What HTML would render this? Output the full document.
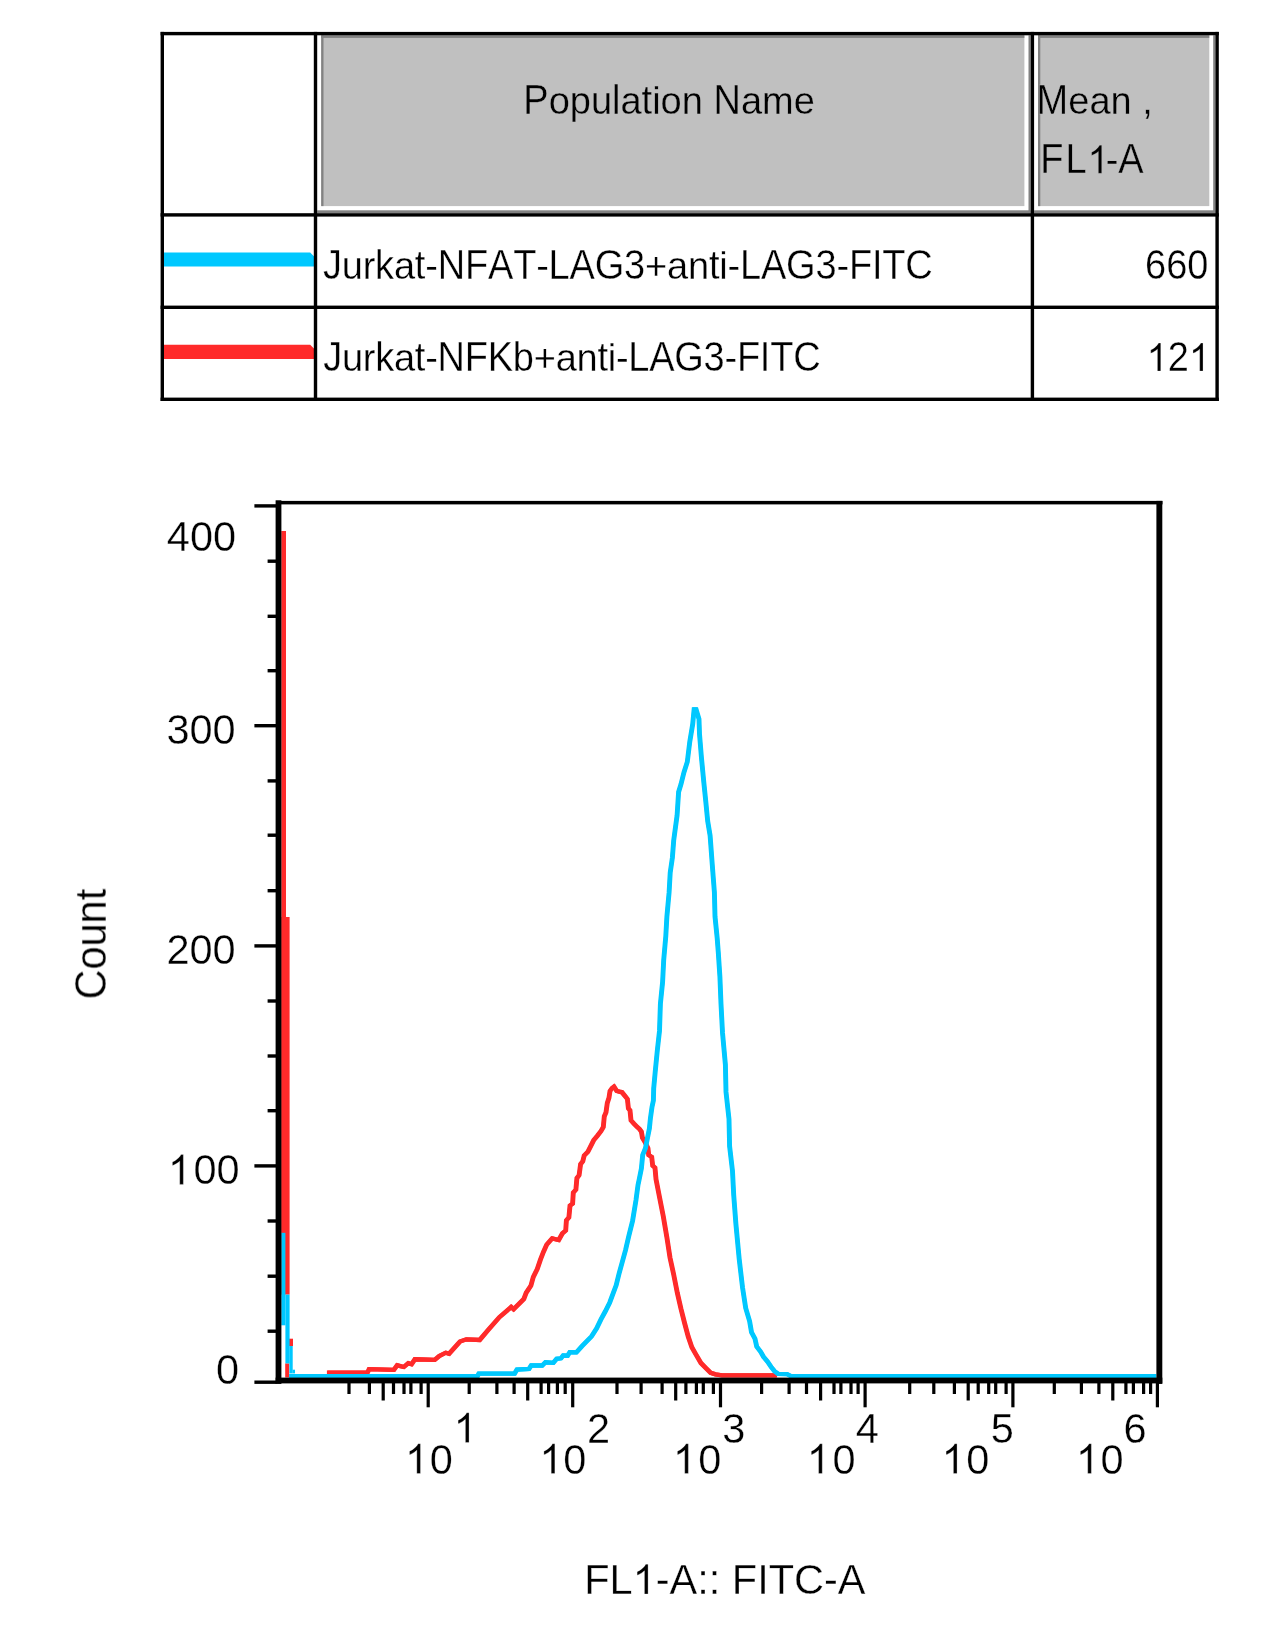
<!DOCTYPE html><html><head><meta charset="utf-8"><title>FlowJo histogram overlay</title><style>html,body{margin:0;padding:0;background:#fff;overflow:hidden;width:1269px;height:1649px;}svg{display:block} text{font-family:"Liberation Sans", sans-serif;font-kerning:none;fill:#000} .t{filter:grayscale(1)}</style></head><body>
<svg width="1269" height="1649" viewBox="0 0 1269 1649">
<defs><path id="one" d="M763,0 L583,0 L583,1147 Q518,1085 465,1054 Q412,1023 359,992 Q306,961 222,930 L222,1104 Q373,1175 429.5,1225.5 Q486,1276 542.5,1326.5 Q599,1377 646,1472 L763,1472 Z"/></defs>
<rect x="0" y="0" width="1269" height="1649" fill="#fff"/>
<rect x="1028.5" y="35.3" width="2.2" height="177.9" fill="#828282"/>
<rect x="317.2" y="210.3" width="713.5" height="2.9" fill="#828282"/>
<rect x="321.2" y="35.3" width="703.2" height="170.8" fill="#c0c0c0"/>
<rect x="321.2" y="35.3" width="2.3" height="170.8" fill="#828282"/>
<rect x="321.2" y="35.3" width="703.2" height="2.6" fill="#828282"/>
<rect x="1213.2" y="35.3" width="2.2" height="177.9" fill="#828282"/>
<rect x="1034.1" y="210.3" width="181.3" height="2.9" fill="#828282"/>
<rect x="1038" y="35.3" width="171.3" height="170.8" fill="#c0c0c0"/>
<rect x="1038" y="35.3" width="2.3" height="170.8" fill="#828282"/>
<rect x="1038" y="35.3" width="171.3" height="2.6" fill="#828282"/>
<polygon points="163,252.6 310.2,252.6 314.2,256.6 314.2,266.4 163,266.4" fill="#00c8ff"/>
<polygon points="163,344.7 310.2,344.7 314.2,348.7 314.2,358.9 163,358.9" fill="#ff2a2a"/>
<rect x="160.6" y="31.9" width="1058.2" height="3.4" fill="#000"/>
<rect x="160.6" y="213.2" width="1058.2" height="3.4" fill="#000"/>
<rect x="160.6" y="305.6" width="1058.2" height="3.4" fill="#000"/>
<rect x="160.6" y="397.6" width="1058.2" height="3.4" fill="#000"/>
<rect x="160.6" y="31.9" width="3.4" height="369.1" fill="#000"/>
<rect x="313.8" y="31.9" width="3.4" height="369.1" fill="#000"/>
<rect x="1030.7" y="31.9" width="3.4" height="369.1" fill="#000"/>
<rect x="1215.4" y="31.9" width="3.4" height="369.1" fill="#000"/>
<rect x="281.3" y="531" width="4.7" height="701.8" fill="#ff2a2a"/>
<rect x="281.3" y="917" width="8.3" height="377.6" fill="#ff2a2a"/>
<rect x="289.0" y="1338.7" width="4" height="7.3" fill="#ff2a2a"/>
<rect x="285.2" y="1363.4" width="4" height="14.1" fill="#ff2a2a"/>
<polyline points="326.9,1372.6 367.1,1372.6 368.8,1369.2 393.6,1369.8 396.9,1365.3 403.5,1367 408,1363.1 411.3,1364.2 414.6,1359.3 434.4,1359.8 438.9,1356 445.5,1352.7 448.8,1353.8 459.7,1341.5 466,1339.3 479.4,1340 487.3,1330.6 499.1,1317.2 510.9,1307 513.3,1309.3 523.5,1299.1 525.9,1292.8 530.6,1285.7 533,1277 536.9,1269.1 540.1,1259.7 543.2,1251.8 546.4,1244.7 551.9,1238.4 558.4,1240 562.1,1233.4 565.4,1230.5 566.1,1220.3 568.6,1217.4 569.7,1205.7 572.3,1203.6 573,1192.6 575.6,1189.7 576.6,1178.1 578.8,1175.2 580.3,1164.2 582.5,1161.3 583.9,1155.5 587.6,1151.8 590.5,1146 593.4,1140.2 597,1135.8 600.7,1131 603,1127 604,1116.4 605.7,1112.4 607,1103 608.7,1097.7 609.7,1091 611.7,1088.3 613.7,1086.7 616.4,1091 619.1,1091.7 621.7,1092.3 624.4,1095.7 627.1,1099 628.1,1108.4 629.7,1110.4 630.7,1120.4 633.7,1123.7 636.4,1126.4 639.1,1129 641.1,1131.7 642.1,1137.7 645.2,1143 647.7,1148.4 648.4,1155 651.4,1157 652.4,1165.7 654.7,1167.7 655.7,1179.1 659.4,1198.2 663,1216.4 666.7,1238.2 669.7,1257.6 673.4,1274.6 677,1292.8 680.6,1308.6 684.3,1323.1 687.9,1336.5 691.6,1347.4 695.8,1354.7 700.7,1363.1 705.5,1368 710.4,1372.8 715.2,1374.4 721.7,1375.4 776.5,1375.4" fill="none" stroke="#ff2a2a" stroke-width="4.3" stroke-linejoin="miter" stroke-miterlimit="2"/>
<polyline points="327.5,1372.6 367.7,1372.6 369.4,1369.2 394.2,1369.8 397.5,1365.3 404.1,1367 408.6,1363.1 411.9,1364.2 415.2,1359.3 435,1359.8 439.5,1356 446.1,1352.7 449.4,1353.8 460.3,1341.5 466.6,1339.3 480,1340 487.9,1330.6 499.7,1317.2 511.5,1307 513.9,1309.3 524.1,1299.1 526.5,1292.8 531.2,1285.7 533.6,1277 537.5,1269.1 540.7,1259.7 543.8,1251.8 547,1244.7 552.5,1238.4 559,1240 562.7,1233.4 566,1230.5 566.7,1220.3 569.2,1217.4 570.3,1205.7 572.9,1203.6 573.6,1192.6 576.2,1189.7 577.2,1178.1 579.4,1175.2 580.9,1164.2 583.1,1161.3 584.5,1155.5 588.2,1151.8 591.1,1146 594,1140.2 597.6,1135.8 601.3,1131 603.6,1127 604.6,1116.4 606.3,1112.4 607.6,1103 609.3,1097.7 610.3,1091 612.3,1088.3 614.3,1086.7 617,1091 619.7,1091.7 622.3,1092.3 625,1095.7 627.7,1099 628.7,1108.4 630.3,1110.4 631.3,1120.4 634.3,1123.7 637,1126.4 639.7,1129 641.7,1131.7 642.7,1137.7 645.8,1143 648.3,1148.4 649,1155 652,1157 653,1165.7 655.3,1167.7 656.3,1179.1 660,1198.2 663.6,1216.4 667.3,1238.2 670.3,1257.6 674,1274.6 677.6,1292.8 681.2,1308.6 684.9,1323.1 688.5,1336.5 692.2,1347.4 696.4,1354.7 701.3,1363.1 706.1,1368 711,1372.8 715.8,1374.4 722.3,1375.4 777.1,1375.4" fill="none" stroke="#ff2a2a" stroke-width="4.3" stroke-linejoin="miter" stroke-miterlimit="2"/>
<rect x="281.3" y="1232.8" width="4.1" height="92.5" fill="#00c8ff"/>
<rect x="285.4" y="1294.6" width="4.2" height="68.8" fill="#00c8ff"/>
<rect x="289.4" y="1346.0" width="3.3" height="27.4" fill="#00c8ff"/>
<rect x="292.6" y="1369.7" width="2.4" height="3.7" fill="#00c8ff"/>
<polyline points="289.1,1376.2 477.2,1376.2 478.5,1373.6 514.3,1373.6 516.6,1369.6 528.7,1369 530.9,1365.5 541.9,1365.5 545.2,1362.3 553,1362.8 556.3,1358.8 560.7,1358.3 562.9,1355.5 567.3,1355.7 569.5,1352.2 576.1,1352.4 581.6,1346.2 587.2,1340.6 591.2,1336.5 596.3,1328.5 600.6,1319.5 605,1311.4 609.4,1302.6 612.6,1293.9 615.9,1285.2 618.6,1274.2 621.9,1262.2 625.2,1250.2 628.5,1236 632.3,1220.7 635.7,1200 637.7,1185 639.1,1178.4 641.1,1168.4 642.4,1155 645.1,1148.4 647.1,1138.4 649.1,1128.4 650.1,1118.4 651.7,1107 653.1,1100.4 653.4,1088.3 654.9,1072 657,1050.6 659.2,1030.9 660.1,1003.8 662.3,982 663.4,960.1 665.5,936.1 666.6,916.5 668.8,892.4 669.9,872.8 672.1,857.5 673.4,840.5 676.8,815.3 678.3,792 680.7,784.2 683.6,772.6 687,761.9 689.5,741.6 692.4,724.1 693.8,709.5 695.8,709.5 698.7,719.2 699.2,733.8 701.1,757.1 703.5,782.3 705.5,801.7 707.4,821.1 709.8,835.6 712,865.1 714.1,892.4 714.7,916.5 716.9,938.3 718,952.5 719.6,976.5 720.7,1003.8 722.2,1032.7 725.1,1064.7 725.7,1091.9 728.7,1119.1 729.3,1146.3 732.2,1171.1 733.4,1194.8 735.6,1224 738.9,1259 742.2,1287.3 745.4,1308.1 749.3,1321.2 751.2,1332.2 754.7,1338.7 756.4,1346.5 760.3,1351.7 763.3,1356.9 767.2,1361.6 770.7,1366.8 774.2,1371.2 777.7,1373.8 786.7,1374.2 790.7,1376.2 1155.7,1376.2" fill="none" stroke="#00c8ff" stroke-width="4.3" stroke-linejoin="miter" stroke-miterlimit="2"/>
<polyline points="289.7,1376.2 477.8,1376.2 479.1,1373.6 514.9,1373.6 517.2,1369.6 529.3,1369 531.5,1365.5 542.5,1365.5 545.8,1362.3 553.6,1362.8 556.9,1358.8 561.3,1358.3 563.5,1355.5 567.9,1355.7 570.1,1352.2 576.7,1352.4 582.2,1346.2 587.8,1340.6 591.8,1336.5 596.9,1328.5 601.2,1319.5 605.6,1311.4 610,1302.6 613.2,1293.9 616.5,1285.2 619.2,1274.2 622.5,1262.2 625.8,1250.2 629.1,1236 632.9,1220.7 636.3,1200 638.3,1185 639.7,1178.4 641.7,1168.4 643,1155 645.7,1148.4 647.7,1138.4 649.7,1128.4 650.7,1118.4 652.3,1107 653.7,1100.4 654,1088.3 655.5,1072 657.6,1050.6 659.8,1030.9 660.7,1003.8 662.9,982 664,960.1 666.1,936.1 667.2,916.5 669.4,892.4 670.5,872.8 672.7,857.5 674,840.5 677.4,815.3 678.9,792 681.3,784.2 684.2,772.6 687.6,761.9 690.1,741.6 693,724.1 694.4,709.5 696.4,709.5 699.3,719.2 699.8,733.8 701.7,757.1 704.1,782.3 706.1,801.7 708,821.1 710.4,835.6 712.6,865.1 714.7,892.4 715.3,916.5 717.5,938.3 718.6,952.5 720.2,976.5 721.3,1003.8 722.8,1032.7 725.7,1064.7 726.3,1091.9 729.3,1119.1 729.9,1146.3 732.8,1171.1 734,1194.8 736.2,1224 739.5,1259 742.8,1287.3 746,1308.1 749.9,1321.2 751.8,1332.2 755.3,1338.7 757,1346.5 760.9,1351.7 763.9,1356.9 767.8,1361.6 771.3,1366.8 774.8,1371.2 778.3,1373.8 787.3,1374.2 791.3,1376.2 1156.3,1376.2" fill="none" stroke="#00c8ff" stroke-width="4.3" stroke-linejoin="miter" stroke-miterlimit="2"/>
<rect x="276" y="500.9" width="886.5" height="3.5" fill="#000"/>
<rect x="1156.4" y="500.9" width="5.9" height="883" fill="#000"/>
<rect x="275.6" y="500.3" width="5.8" height="883.6" fill="#000"/>
<rect x="275.6" y="1377.6" width="886.7" height="5.8" fill="#000"/>
<rect x="254.4" y="504.2" width="22" height="3.4" fill="#000"/>
<rect x="254.4" y="724" width="22" height="3.4" fill="#000"/>
<rect x="254.4" y="944.2" width="22" height="3.4" fill="#000"/>
<rect x="254.4" y="1164.2" width="22" height="3.4" fill="#000"/>
<rect x="254.4" y="1380.5" width="22" height="3.4" fill="#000"/>
<rect x="267.6" y="559.5" width="9" height="3.4" fill="#000"/>
<rect x="267.6" y="614.6" width="9" height="3.4" fill="#000"/>
<rect x="267.6" y="669" width="9" height="3.4" fill="#000"/>
<rect x="267.6" y="779.2" width="9" height="3.4" fill="#000"/>
<rect x="267.6" y="833.5" width="9" height="3.4" fill="#000"/>
<rect x="267.6" y="889" width="9" height="3.4" fill="#000"/>
<rect x="267.6" y="999.3" width="9" height="3.4" fill="#000"/>
<rect x="267.6" y="1054.3" width="9" height="3.4" fill="#000"/>
<rect x="267.6" y="1109" width="9" height="3.4" fill="#000"/>
<rect x="267.6" y="1219.3" width="9" height="3.4" fill="#000"/>
<rect x="267.6" y="1274.5" width="9" height="3.4" fill="#000"/>
<rect x="267.6" y="1329.5" width="9" height="3.4" fill="#000"/>
<rect x="347.4" y="1382" width="3.2" height="12" fill="#000"/>
<rect x="367.8" y="1382" width="3.2" height="12" fill="#000"/>
<rect x="391.9" y="1382" width="3.2" height="12" fill="#000"/>
<rect x="402.4" y="1382" width="3.2" height="12" fill="#000"/>
<rect x="409.3" y="1382" width="3.2" height="12" fill="#000"/>
<rect x="419.5" y="1382" width="3.2" height="12" fill="#000"/>
<rect x="467.6" y="1382" width="3.2" height="12" fill="#000"/>
<rect x="495.3" y="1382" width="3.2" height="12" fill="#000"/>
<rect x="512.5" y="1382" width="3.2" height="12" fill="#000"/>
<rect x="539.5" y="1382" width="3.2" height="12" fill="#000"/>
<rect x="547" y="1382" width="3.2" height="12" fill="#000"/>
<rect x="555.8" y="1382" width="3.2" height="12" fill="#000"/>
<rect x="563.6" y="1382" width="3.2" height="12" fill="#000"/>
<rect x="615.4" y="1382" width="3.2" height="12" fill="#000"/>
<rect x="639.5" y="1382" width="3.2" height="12" fill="#000"/>
<rect x="660.5" y="1382" width="3.2" height="12" fill="#000"/>
<rect x="684.3" y="1382" width="3.2" height="12" fill="#000"/>
<rect x="694.8" y="1382" width="3.2" height="12" fill="#000"/>
<rect x="701.7" y="1382" width="3.2" height="12" fill="#000"/>
<rect x="711.8" y="1382" width="3.2" height="12" fill="#000"/>
<rect x="760" y="1382" width="3.2" height="12" fill="#000"/>
<rect x="787.5" y="1382" width="3.2" height="12" fill="#000"/>
<rect x="804.9" y="1382" width="3.2" height="12" fill="#000"/>
<rect x="832.4" y="1382" width="3.2" height="12" fill="#000"/>
<rect x="839.3" y="1382" width="3.2" height="12" fill="#000"/>
<rect x="849.4" y="1382" width="3.2" height="12" fill="#000"/>
<rect x="856.5" y="1382" width="3.2" height="12" fill="#000"/>
<rect x="908.1" y="1382" width="3.2" height="12" fill="#000"/>
<rect x="932.2" y="1382" width="3.2" height="12" fill="#000"/>
<rect x="952.8" y="1382" width="3.2" height="12" fill="#000"/>
<rect x="976.6" y="1382" width="3.2" height="12" fill="#000"/>
<rect x="987.1" y="1382" width="3.2" height="12" fill="#000"/>
<rect x="994.1" y="1382" width="3.2" height="12" fill="#000"/>
<rect x="1004.5" y="1382" width="3.2" height="12" fill="#000"/>
<rect x="1052.7" y="1382" width="3.2" height="12" fill="#000"/>
<rect x="1079.8" y="1382" width="3.2" height="12" fill="#000"/>
<rect x="1097.3" y="1382" width="3.2" height="12" fill="#000"/>
<rect x="1124.3" y="1382" width="3.2" height="12" fill="#000"/>
<rect x="1131.8" y="1382" width="3.2" height="12" fill="#000"/>
<rect x="1142" y="1382" width="3.2" height="12" fill="#000"/>
<rect x="1149" y="1382" width="3.2" height="12" fill="#000"/>
<rect x="381.6" y="1382" width="3.2" height="18.5" fill="#000"/>
<rect x="526.1" y="1382" width="3.2" height="18.5" fill="#000"/>
<rect x="674.1" y="1382" width="3.2" height="18.5" fill="#000"/>
<rect x="819" y="1382" width="3.2" height="18.5" fill="#000"/>
<rect x="966.6" y="1382" width="3.2" height="18.5" fill="#000"/>
<rect x="1111.2" y="1382" width="3.2" height="18.5" fill="#000"/>
<rect x="426.6" y="1382" width="3.2" height="25.3" fill="#000"/>
<rect x="571.1" y="1382" width="3.2" height="25.3" fill="#000"/>
<rect x="718.9" y="1382" width="3.2" height="25.3" fill="#000"/>
<rect x="863.5" y="1382" width="3.2" height="25.3" fill="#000"/>
<rect x="1011.3" y="1382" width="3.2" height="25.3" fill="#000"/>
<rect x="1155.8" y="1382" width="3.2" height="25.3" fill="#000"/>
<g class="t"><text transform="translate(523.3,114) scale(1,1.1)" x="0" y="0" font-size="38" stroke="#c0c0c0" stroke-width="0.3" >P</text><text transform="translate(548.65,114) scale(1,1.02)" x="0" y="0" font-size="38" stroke="#c0c0c0" stroke-width="0.3" >o</text><text transform="translate(569.78,114) scale(1,1.02)" x="0" y="0" font-size="38" stroke="#c0c0c0" stroke-width="0.3" >p</text><text transform="translate(590.91,114) scale(1,1.02)" x="0" y="0" font-size="38" stroke="#c0c0c0" stroke-width="0.3" >u</text><text transform="translate(612.05,114) scale(1,1.07)" x="0" y="0" font-size="38" stroke="#c0c0c0" stroke-width="0.3" >l</text><text transform="translate(620.49,114) scale(1,1.02)" x="0" y="0" font-size="38" stroke="#c0c0c0" stroke-width="0.3" >a</text><text transform="translate(641.62,114) scale(1,1.07)" x="0" y="0" font-size="38" stroke="#c0c0c0" stroke-width="0.3" >t</text><text transform="translate(652.18,114) scale(1,1.02)" x="0" y="0" font-size="38" stroke="#c0c0c0" stroke-width="0.3" >i</text><text transform="translate(660.62,114) scale(1,1.02)" x="0" y="0" font-size="38" stroke="#c0c0c0" stroke-width="0.3" >o</text><text transform="translate(681.76,114) scale(1,1.02)" x="0" y="0" font-size="38" stroke="#c0c0c0" stroke-width="0.3" >n</text><text transform="translate(713.45,114) scale(1,1.1)" x="0" y="0" font-size="38" stroke="#c0c0c0" stroke-width="0.3" >N</text><text transform="translate(740.89,114) scale(1,1.02)" x="0" y="0" font-size="38" stroke="#c0c0c0" stroke-width="0.3" >a</text><text transform="translate(762.02,114) scale(1,1.02)" x="0" y="0" font-size="38" stroke="#c0c0c0" stroke-width="0.3" >m</text><text transform="translate(793.68,114) scale(1,1.02)" x="0" y="0" font-size="38" stroke="#c0c0c0" stroke-width="0.3" >e</text><text transform="translate(1036.6,114.2) scale(1,1.1)" x="0" y="0" font-size="38" stroke="#c0c0c0" stroke-width="0.3" >M</text><text transform="translate(1068.25,114.2) scale(1,1.02)" x="0" y="0" font-size="38" stroke="#c0c0c0" stroke-width="0.3" >e</text><text transform="translate(1089.39,114.2) scale(1,1.02)" x="0" y="0" font-size="38" stroke="#c0c0c0" stroke-width="0.3" >a</text><text transform="translate(1110.52,114.2) scale(1,1.02)" x="0" y="0" font-size="38" stroke="#c0c0c0" stroke-width="0.3" >n</text><text transform="translate(1142.21,114.2) scale(1,1.04)" x="0" y="0" font-size="38" stroke="#c0c0c0" stroke-width="0.3" >,</text><text transform="translate(1040.2,173.3) scale(1,1.1)" x="0" y="0" font-size="38" stroke="#c0c0c0" stroke-width="0.3" >F</text><text transform="translate(1065.41,173.3) scale(1,1.1)" x="0" y="0" font-size="38" stroke="#c0c0c0" stroke-width="0.3" >L</text><text transform="translate(1105.68,173.3) scale(1,1.04)" x="0" y="0" font-size="38" stroke="#c0c0c0" stroke-width="0.3" >-</text><text transform="translate(1118.33,173.3) scale(1,1.1)" x="0" y="0" font-size="38" stroke="#c0c0c0" stroke-width="0.3" >A</text><use href="#one" transform="translate(1087.55,173.3) scale(0.01855,-0.01911)" stroke="#c0c0c0" stroke-width="16.17"/><text transform="translate(322.9,278.9) scale(1,1.1)" x="0" y="0" font-size="38" stroke="#fff" stroke-width="0.3" >J</text><text transform="translate(341.71,278.9) scale(1,1.02)" x="0" y="0" font-size="38" stroke="#fff" stroke-width="0.3" >u</text><text transform="translate(362.65,278.9) scale(1,1.02)" x="0" y="0" font-size="38" stroke="#fff" stroke-width="0.3" >r</text><text transform="translate(375.12,278.9) scale(1,1.07)" x="0" y="0" font-size="38" stroke="#fff" stroke-width="0.3" >k</text><text transform="translate(393.93,278.9) scale(1,1.02)" x="0" y="0" font-size="38" stroke="#fff" stroke-width="0.3" >a</text><text transform="translate(414.87,278.9) scale(1,1.07)" x="0" y="0" font-size="38" stroke="#fff" stroke-width="0.3" >t</text><text transform="translate(425.24,278.9) scale(1,1.04)" x="0" y="0" font-size="38" stroke="#fff" stroke-width="0.3" >-</text><text transform="translate(437.7,278.9) scale(1,1.1)" x="0" y="0" font-size="38" stroke="#fff" stroke-width="0.3" >N</text><text transform="translate(464.96,278.9) scale(1,1.1)" x="0" y="0" font-size="38" stroke="#fff" stroke-width="0.3" >F</text><text transform="translate(487.98,278.9) scale(1,1.1)" x="0" y="0" font-size="38" stroke="#fff" stroke-width="0.3" >A</text><text transform="translate(513.13,278.9) scale(1,1.1)" x="0" y="0" font-size="38" stroke="#fff" stroke-width="0.3" >T</text><text transform="translate(536.16,278.9) scale(1,1.04)" x="0" y="0" font-size="38" stroke="#fff" stroke-width="0.3" >-</text><text transform="translate(548.62,278.9) scale(1,1.1)" x="0" y="0" font-size="38" stroke="#fff" stroke-width="0.3" >L</text><text transform="translate(569.56,278.9) scale(1,1.1)" x="0" y="0" font-size="38" stroke="#fff" stroke-width="0.3" >A</text><text transform="translate(594.72,278.9) scale(1,1.1)" x="0" y="0" font-size="38" stroke="#fff" stroke-width="0.3" >G</text><text transform="translate(624.09,278.9) scale(1,1.1)" x="0" y="0" font-size="38" stroke="#fff" stroke-width="0.3" >3</text><text transform="translate(645.03,278.9) scale(1,1.04)" x="0" y="0" font-size="38" stroke="#fff" stroke-width="0.3" >+</text><text transform="translate(667.03,278.9) scale(1,1.02)" x="0" y="0" font-size="38" stroke="#fff" stroke-width="0.3" >a</text><text transform="translate(687.98,278.9) scale(1,1.02)" x="0" y="0" font-size="38" stroke="#fff" stroke-width="0.3" >n</text><text transform="translate(708.92,278.9) scale(1,1.07)" x="0" y="0" font-size="38" stroke="#fff" stroke-width="0.3" >t</text><text transform="translate(719.29,278.9) scale(1,1.02)" x="0" y="0" font-size="38" stroke="#fff" stroke-width="0.3" >i</text><text transform="translate(727.54,278.9) scale(1,1.04)" x="0" y="0" font-size="38" stroke="#fff" stroke-width="0.3" >-</text><text transform="translate(740,278.9) scale(1,1.1)" x="0" y="0" font-size="38" stroke="#fff" stroke-width="0.3" >L</text><text transform="translate(760.95,278.9) scale(1,1.1)" x="0" y="0" font-size="38" stroke="#fff" stroke-width="0.3" >A</text><text transform="translate(786.1,278.9) scale(1,1.1)" x="0" y="0" font-size="38" stroke="#fff" stroke-width="0.3" >G</text><text transform="translate(815.47,278.9) scale(1,1.1)" x="0" y="0" font-size="38" stroke="#fff" stroke-width="0.3" >3</text><text transform="translate(836.42,278.9) scale(1,1.04)" x="0" y="0" font-size="38" stroke="#fff" stroke-width="0.3" >-</text><text transform="translate(848.88,278.9) scale(1,1.1)" x="0" y="0" font-size="38" stroke="#fff" stroke-width="0.3" >F</text><text transform="translate(871.9,278.9) scale(1,1.1)" x="0" y="0" font-size="38" stroke="#fff" stroke-width="0.3" >I</text><text transform="translate(882.27,278.9) scale(1,1.1)" x="0" y="0" font-size="38" stroke="#fff" stroke-width="0.3" >T</text><text transform="translate(905.29,278.9) scale(1,1.1)" x="0" y="0" font-size="38" stroke="#fff" stroke-width="0.3" >C</text><text transform="translate(1145,278.9) scale(1,1.1)" x="0" y="0" font-size="38" stroke="#fff" stroke-width="0.3" >6</text><text transform="translate(1166.13,278.9) scale(1,1.1)" x="0" y="0" font-size="38" stroke="#fff" stroke-width="0.3" >6</text><text transform="translate(1187.27,278.9) scale(1,1.1)" x="0" y="0" font-size="38" stroke="#fff" stroke-width="0.3" >0</text><text transform="translate(323.2,371.1) scale(1,1.1)" x="0" y="0" font-size="38" stroke="#fff" stroke-width="0.3" >J</text><text transform="translate(341.95,371.1) scale(1,1.02)" x="0" y="0" font-size="38" stroke="#fff" stroke-width="0.3" >u</text><text transform="translate(362.83,371.1) scale(1,1.02)" x="0" y="0" font-size="38" stroke="#fff" stroke-width="0.3" >r</text><text transform="translate(375.24,371.1) scale(1,1.07)" x="0" y="0" font-size="38" stroke="#fff" stroke-width="0.3" >k</text><text transform="translate(393.99,371.1) scale(1,1.02)" x="0" y="0" font-size="38" stroke="#fff" stroke-width="0.3" >a</text><text transform="translate(414.87,371.1) scale(1,1.07)" x="0" y="0" font-size="38" stroke="#fff" stroke-width="0.3" >t</text><text transform="translate(425.18,371.1) scale(1,1.04)" x="0" y="0" font-size="38" stroke="#fff" stroke-width="0.3" >-</text><text transform="translate(437.58,371.1) scale(1,1.1)" x="0" y="0" font-size="38" stroke="#fff" stroke-width="0.3" >N</text><text transform="translate(464.78,371.1) scale(1,1.1)" x="0" y="0" font-size="38" stroke="#fff" stroke-width="0.3" >F</text><text transform="translate(487.74,371.1) scale(1,1.1)" x="0" y="0" font-size="38" stroke="#fff" stroke-width="0.3" >K</text><text transform="translate(512.83,371.1) scale(1,1.07)" x="0" y="0" font-size="38" stroke="#fff" stroke-width="0.3" >b</text><text transform="translate(533.72,371.1) scale(1,1.04)" x="0" y="0" font-size="38" stroke="#fff" stroke-width="0.3" >+</text><text transform="translate(555.66,371.1) scale(1,1.02)" x="0" y="0" font-size="38" stroke="#fff" stroke-width="0.3" >a</text><text transform="translate(576.54,371.1) scale(1,1.02)" x="0" y="0" font-size="38" stroke="#fff" stroke-width="0.3" >n</text><text transform="translate(597.43,371.1) scale(1,1.07)" x="0" y="0" font-size="38" stroke="#fff" stroke-width="0.3" >t</text><text transform="translate(607.73,371.1) scale(1,1.02)" x="0" y="0" font-size="38" stroke="#fff" stroke-width="0.3" >i</text><text transform="translate(615.93,371.1) scale(1,1.04)" x="0" y="0" font-size="38" stroke="#fff" stroke-width="0.3" >-</text><text transform="translate(628.33,371.1) scale(1,1.1)" x="0" y="0" font-size="38" stroke="#fff" stroke-width="0.3" >L</text><text transform="translate(649.21,371.1) scale(1,1.1)" x="0" y="0" font-size="38" stroke="#fff" stroke-width="0.3" >A</text><text transform="translate(674.31,371.1) scale(1,1.1)" x="0" y="0" font-size="38" stroke="#fff" stroke-width="0.3" >G</text><text transform="translate(703.62,371.1) scale(1,1.1)" x="0" y="0" font-size="38" stroke="#fff" stroke-width="0.3" >3</text><text transform="translate(724.5,371.1) scale(1,1.04)" x="0" y="0" font-size="38" stroke="#fff" stroke-width="0.3" >-</text><text transform="translate(736.91,371.1) scale(1,1.1)" x="0" y="0" font-size="38" stroke="#fff" stroke-width="0.3" >F</text><text transform="translate(759.87,371.1) scale(1,1.1)" x="0" y="0" font-size="38" stroke="#fff" stroke-width="0.3" >I</text><text transform="translate(770.18,371.1) scale(1,1.1)" x="0" y="0" font-size="38" stroke="#fff" stroke-width="0.3" >T</text><text transform="translate(793.14,371.1) scale(1,1.1)" x="0" y="0" font-size="38" stroke="#fff" stroke-width="0.3" >C</text><text transform="translate(1167.73,371.1) scale(1,1.1)" x="0" y="0" font-size="38" stroke="#fff" stroke-width="0.3" >2</text><use href="#one" transform="translate(1146.6,371.1) scale(0.01855,-0.01911)" stroke="#fff" stroke-width="16.17"/><use href="#one" transform="translate(1188.87,371.1) scale(0.01855,-0.01911)" stroke="#fff" stroke-width="16.17"/><text transform="translate(0,551.5) scale(1,1.03)" x="166.86 189.94 213.02" y="0" font-size="41.5" stroke="#fff" stroke-width="0.3" >400</text><text transform="translate(0,744.4) scale(1,1.03)" x="166.46 189.54 212.62" y="0" font-size="41.5" stroke="#fff" stroke-width="0.3" >300</text><text transform="translate(0,964.4) scale(1,1.03)" x="166.46 189.54 212.62" y="0" font-size="41.5" stroke="#fff" stroke-width="0.3" >200</text><text transform="translate(0,1184.4) scale(1,1.03)" x="167.9 193.48 216.56" y="0" font-size="41.5" stroke="#fff" stroke-width="0.3" > 00</text><use href="#one" transform="translate(167.9,1184.4) scale(0.02026,-0.02026)" stroke="#fff" stroke-width="14.8"/><text transform="translate(0,1384.1) scale(1,1.03)" x="215.92" y="0" font-size="41.5" stroke="#fff" stroke-width="0.3" >0</text><text transform="translate(106.3,999.5) rotate(-90) scale(1,1.06)" x="0" y="0" font-size="41.5" stroke="#fff" stroke-width="0.3">Count</text><use href="#one" transform="translate(405,1473.5) scale(0.02026,-0.02026)" stroke="#fff" stroke-width="14.8"/><text transform="translate(0,1473.5) scale(1,1.03)" x="429.64" y="0" font-size="41.5" stroke="#fff" stroke-width="0.3">0</text><use href="#one" transform="translate(453.6,1442.5) scale(0.02026,-0.02026)" stroke="#fff" stroke-width="14.8"/><use href="#one" transform="translate(539.4,1473.5) scale(0.02026,-0.02026)" stroke="#fff" stroke-width="14.8"/><text transform="translate(0,1473.5) scale(1,1.03)" x="563.14" y="0" font-size="41.5" stroke="#fff" stroke-width="0.3">0</text><text transform="translate(0,1442.5) scale(1,1.03)" x="586.91" y="0" font-size="41.5" stroke="#fff" stroke-width="0.3">2</text><use href="#one" transform="translate(672.9,1473.5) scale(0.02026,-0.02026)" stroke="#fff" stroke-width="14.8"/><text transform="translate(0,1473.5) scale(1,1.03)" x="698.14" y="0" font-size="41.5" stroke="#fff" stroke-width="0.3">0</text><text transform="translate(0,1442.5) scale(1,1.03)" x="722.32" y="0" font-size="41.5" stroke="#fff" stroke-width="0.3">3</text><use href="#one" transform="translate(806.8,1473.5) scale(0.02026,-0.02026)" stroke="#fff" stroke-width="14.8"/><text transform="translate(0,1473.5) scale(1,1.03)" x="832.44" y="0" font-size="41.5" stroke="#fff" stroke-width="0.3">0</text><text transform="translate(0,1442.5) scale(1,1.03)" x="855.75" y="0" font-size="41.5" stroke="#fff" stroke-width="0.3">4</text><use href="#one" transform="translate(941.6,1473.5) scale(0.02026,-0.02026)" stroke="#fff" stroke-width="14.8"/><text transform="translate(0,1473.5) scale(1,1.03)" x="966.24" y="0" font-size="41.5" stroke="#fff" stroke-width="0.3">0</text><text transform="translate(0,1442.5) scale(1,1.03)" x="990.74" y="0" font-size="41.5" stroke="#fff" stroke-width="0.3">5</text><use href="#one" transform="translate(1075.9,1473.5) scale(0.02026,-0.02026)" stroke="#fff" stroke-width="14.8"/><text transform="translate(0,1473.5) scale(1,1.03)" x="1100.54" y="0" font-size="41.5" stroke="#fff" stroke-width="0.3">0</text><text transform="translate(0,1442.5) scale(1,1.03)" x="1123.59" y="0" font-size="41.5" stroke="#fff" stroke-width="0.3">6</text><text transform="translate(0,1594) scale(1,1.03)" x="584.2 609.55 632.63 655.71 669.53 697.21 708.74 720.27 731.8 757.15 768.68 794.03 824 837.82" y="0" font-size="41.5" stroke="#fff" stroke-width="0.3" >FL -A:: FITC-A</text><use href="#one" transform="translate(632.63,1594) scale(0.02026,-0.02026)" stroke="#fff" stroke-width="14.8"/></g>
</svg></body></html>
